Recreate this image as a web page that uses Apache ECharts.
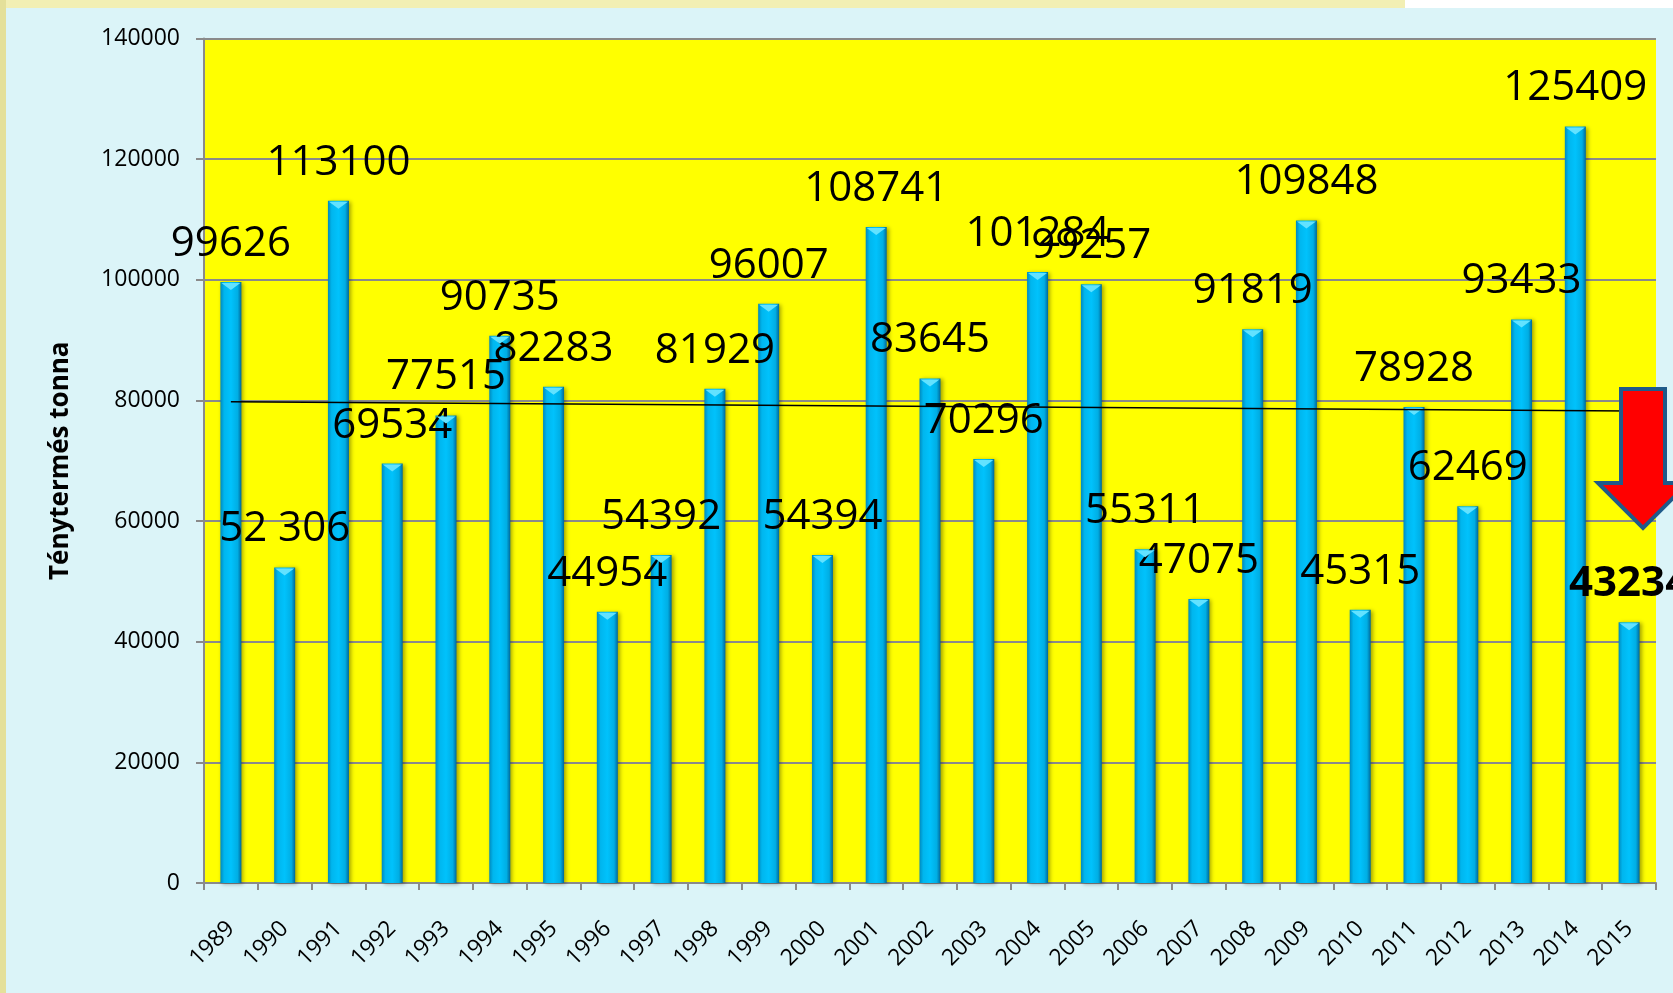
<!DOCTYPE html>
<html>
<head>
<meta charset="utf-8">
<script src="https://cdn.jsdelivr.net/npm/echarts@6/dist/echarts.min.js"></script>
<style>
  html, body { margin: 0; padding: 0; background: #dbf4f8; }
  #chart { width: 1673px; height: 993px; }
</style>
</head>
<body>
<div id="chart"></div>
<script>
const years = ['1989', '1990', '1991', '1992', '1993', '1994', '1995', '1996', '1997', '1998',
  '1999', '2000', '2001', '2002', '2003', '2004', '2005', '2006', '2007', '2008',
  '2009', '2010', '2011', '2012', '2013', '2014', '2015']
const harvest = [99626, 52306, 113100, 69534, 77515, 90735, 82283, 44954, 54392, 81929,
  96007, 54394, 108741, 83645, 70296, 101284, 99257, 55311, 47075, 91819,
  109848, 45315, 78928, 62469, 93433, 125409, 43234]
const harvestLabels = ['99626', '52 306', '113100', '69534', '77515', '90735', '82283', '44954', '54392', '81929',
  '96007', '54394', '108741', '83645', '70296', '101284', '99257', '55311', '47075', '91819',
  '109848', '45315', '78928', '62469', '93433', '125409', '43234']
// trend line ends
const trend = [79800, 78240]
const yTicks = [0, 20000, 40000, 60000, 80000, 100000, 120000, 140000]

const font = '"Open Sans", "Noto Sans", sans-serif'
const chart = echarts.init(document.getElementById('chart'))

const barColor = new echarts.graphic.LinearGradient(0, 0, 1, 0, [
  { offset: 0, color: '#0089bd' },
  { offset: 0.18, color: '#00b6ee' },
  { offset: 0.5, color: '#00c2fc' },
  { offset: 0.82, color: '#00aee4' },
  { offset: 1, color: '#00689a' }
])

const option = {
  animation: false,
  backgroundColor: 'transparent',
  textStyle: { fontFamily: font },
  grid: {
    left: 204, right: 17, top: 38.5, bottom: 110,
    show: true, backgroundColor: '#ffff00', borderWidth: 0
  },
  xAxis: {
    type: 'category',
    data: years,
    axisLine: { lineStyle: { color: '#8a8a8a', width: 2 } },
    axisTick: { show: true, length: 7, lineStyle: { color: '#8a8a8a', width: 2 } },
    axisLabel: { rotate: 45, margin: 42, color: '#000', fontSize: 23, fontFamily: font }
  },
  yAxis: {
    type: 'value',
    min: yTicks[0],
    max: yTicks[yTicks.length - 1],
    interval: 20000,
    name: 'Ténytermés tonna',
    nameLocation: 'middle',
    nameRotate: 90,
    nameGap: 130,
    nameTextStyle: { fontSize: 26, fontWeight: 'bold', color: '#000', fontFamily: font },
    axisLine: { show: true, lineStyle: { color: '#8a8a8a', width: 2 } },
    axisTick: { show: true, length: 8, lineStyle: { color: '#8a8a8a', width: 2 } },
    axisLabel: {
      margin: 24, color: '#000', fontSize: 23, fontFamily: font,
      formatter: v => String(v)
    },
    splitLine: { lineStyle: { color: '#8a8a8a', width: 2 } }
  },
  series: [
    {
      type: 'bar',
      barWidth: 21,
      barGap: '-100%',
      data: harvest.map((v, i) => i === harvest.length - 1
        ? { value: v, label: { fontWeight: 'bold' } }
        : v),
      itemStyle: {
        color: barColor,
        shadowColor: 'rgba(0,0,0,0.35)',
        shadowBlur: 4,
        shadowOffsetX: 2,
        shadowOffsetY: 1
      },
      label: {
        show: true,
        position: 'top',
        distance: 17,
        color: '#000',
        fontSize: 42,
        fontFamily: font,
        formatter: p => harvestLabels[p.dataIndex]
      },
      markLine: {
        silent: true,
        symbol: 'none',
        label: { show: false },
        lineStyle: { color: '#000', width: 1.5, type: 'solid' },
        data: [[
          { coord: [years[0], trend[0]] },
          { coord: [years[years.length - 1], trend[1]] }
        ]]
      }
    },
    {
      // light bevel at the top of each column
      type: 'pictorialBar',
      barWidth: 21,
      barGap: '-100%',
      symbol: 'path://M0,0 L20,0 L10,8 Z',
      symbolSize: [19, 7],
      symbolPosition: 'end',
      symbolOffset: [0, 1],
      itemStyle: { color: '#62e2ff' },
      z: 3,
      data: harvest
    }
  ],
  graphic: [
    { type: 'rect', z: -10, shape: { x: 0, y: 0, width: 1673, height: 993 }, style: { fill: '#dbf4f8' } },
    { type: 'rect', z: -9, shape: { x: 0, y: 0, width: 1405, height: 8 }, style: { fill: '#f2efb4' } },
    { type: 'rect', z: -9, shape: { x: 1405, y: 0, width: 268, height: 8 }, style: { fill: '#ffffff' } },
    { type: 'rect', z: -9, shape: { x: 0, y: 0, width: 6, height: 993 }, style: { fill: '#e4e09a' } },
    { type: 'arc', z: -8, shape: { cx: 1490, cy: -70, r: 80, startAngle: 2.3, endAngle: 2.6 }, style: { stroke: '#2e9a48', lineWidth: 3, fill: null } },
    { type: 'arc', z: -8, shape: { cx: 1497, cy: -72, r: 80, startAngle: 2.3, endAngle: 2.6 }, style: { stroke: '#d9383a', lineWidth: 3, fill: null } },
    {
      type: 'polygon',
      z: 100,
      shape: {
        points: [[1621, 389], [1665, 389], [1665, 483], [1688, 483], [1643, 528], [1598, 483], [1621, 483]]
      },
      style: { fill: '#ff0000', stroke: '#1f5a8a', lineWidth: 4 }
    }
  ]
}

chart.setOption(option)
window.addEventListener('resize', () => {
  chart.resize()
})
</script>
</body>
</html>
